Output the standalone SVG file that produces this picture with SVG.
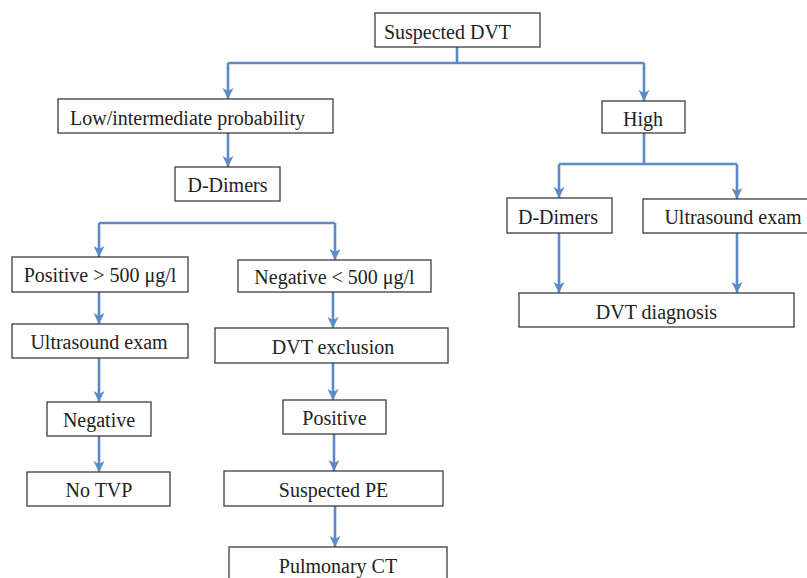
<svg xmlns="http://www.w3.org/2000/svg" width="807" height="578" viewBox="0 0 807 578">
<style>
.box{fill:#fff;stroke:#3c3c3c;stroke-width:1.3}
.lbl{font-family:'Liberation Serif','Times New Roman',serif;font-size:20px;fill:#222;text-anchor:middle}
.con{fill:none;stroke:#5b8bc6;stroke-width:2.6;stroke-linejoin:miter}
</style>
<defs>
<marker id="arr" markerUnits="userSpaceOnUse" markerWidth="12" markerHeight="12" refX="11" refY="6" orient="auto" viewBox="0 0 12 12">
<path d="M0,0.5 L11,6 L0,11.5 L3,6 z" fill="#5b8bc6"/>
</marker>
</defs>
<rect width="807" height="578" fill="#fff"/>
<g id="connectors">
<path class="con" d="M457,47 V63"/>
<path class="con" d="M228,63 H644"/>
<path class="con" d="M644,63 V101" marker-end="url(#arr)"/>
<path class="con" d="M228,63 V99" marker-end="url(#arr)"/>
<path class="con" d="M228,133 V167" marker-end="url(#arr)"/>
<path class="con" d="M99,223 H335"/>
<path class="con" d="M335,223 V260" marker-end="url(#arr)"/>
<path class="con" d="M99,223 V257" marker-end="url(#arr)"/>
<path class="con" d="M99,292 V324" marker-end="url(#arr)"/>
<path class="con" d="M99,358 V402" marker-end="url(#arr)"/>
<path class="con" d="M99,436 V472" marker-end="url(#arr)"/>
<path class="con" d="M333,292 V328" marker-end="url(#arr)"/>
<path class="con" d="M333,363 V400" marker-end="url(#arr)"/>
<path class="con" d="M334,434 V471" marker-end="url(#arr)"/>
<path class="con" d="M335,506 V547" marker-end="url(#arr)"/>
<path class="con" d="M644,133 V164"/>
<path class="con" d="M559,164 H737"/>
<path class="con" d="M737,164 V199" marker-end="url(#arr)"/>
<path class="con" d="M559,164 V198" marker-end="url(#arr)"/>
<path class="con" d="M559,233 V293" marker-end="url(#arr)"/>
<path class="con" d="M737,233 V293" marker-end="url(#arr)"/>
</g>
<g id="suspected-dvt"><rect class="box" x="375" y="13" width="165" height="34"/><text class="lbl" x="447.5" y="39">Suspected DVT</text></g>
<g id="low-intermediate"><rect class="box" x="58" y="99" width="275" height="34"/><text class="lbl" x="187.5" y="125">Low/intermediate probability</text></g>
<g id="high"><rect class="box" x="602" y="101" width="83" height="32"/><text class="lbl" x="643" y="126">High</text></g>
<g id="d-dimers-left"><rect class="box" x="175" y="167" width="105" height="34"/><text class="lbl" x="227.5" y="192">D-Dimers</text></g>
<g id="positive-500"><rect class="box" x="12" y="257" width="176" height="35"/><text class="lbl" x="100" y="282">Positive &gt; 500 μg/l</text></g>
<g id="negative-500"><rect class="box" x="238" y="260" width="193" height="32"/><text class="lbl" x="334.5" y="284">Negative &lt; 500 μg/l</text></g>
<g id="ultrasound-left"><rect class="box" x="12" y="324" width="176" height="34"/><text class="lbl" x="99" y="349">Ultrasound exam</text></g>
<g id="dvt-exclusion"><rect class="box" x="215" y="328" width="233" height="35"/><text class="lbl" x="333" y="354">DVT exclusion</text></g>
<g id="negative"><rect class="box" x="47" y="402" width="104" height="34"/><text class="lbl" x="99" y="427">Negative</text></g>
<g id="positive"><rect class="box" x="283" y="400" width="103" height="34"/><text class="lbl" x="334.5" y="425">Positive</text></g>
<g id="no-tvp"><rect class="box" x="27" y="472" width="143" height="34"/><text class="lbl" x="99" y="497">No TVP</text></g>
<g id="suspected-pe"><rect class="box" x="224" y="471" width="219" height="35"/><text class="lbl" x="333.5" y="497">Suspected PE</text></g>
<g id="pulmonary-ct"><rect class="box" x="229" y="547" width="218" height="45"/><text class="lbl" x="338" y="573">Pulmonary CT</text></g>
<g id="d-dimers-right"><rect class="box" x="507" y="198" width="105" height="35"/><text class="lbl" x="558" y="224">D-Dimers</text></g>
<g id="ultrasound-right"><rect class="box" x="643" y="199" width="170" height="34"/><text class="lbl" x="733" y="224">Ultrasound exam</text></g>
<g id="dvt-diagnosis"><rect class="box" x="519" y="293" width="275" height="34"/><text class="lbl" x="656.5" y="319">DVT diagnosis</text></g>
</svg>
